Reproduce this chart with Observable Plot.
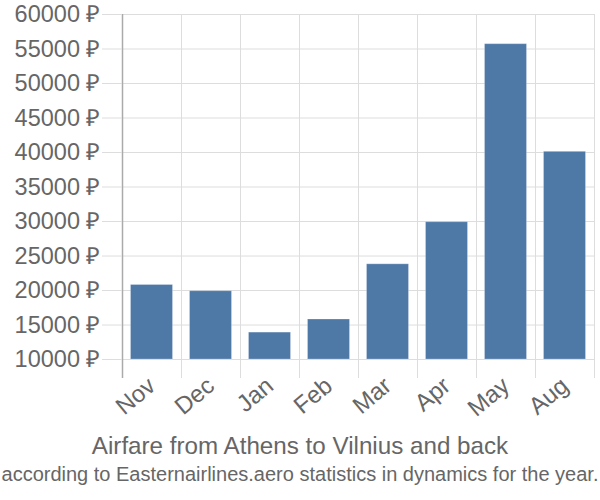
<!DOCTYPE html>
<html><head><meta charset="utf-8">
<script src="https://cdn.jsdelivr.net/npm/d3@7"></script>
<script src="https://cdn.jsdelivr.net/npm/@observablehq/plot@0.6"></script>
<style>
body{margin:0;background:#fff;font-family:"Liberation Sans",Arial,sans-serif;}
#chart svg{display:block}
.t{text-align:center;color:#666;white-space:nowrap;}
#title{font-size:24.2px;line-height:28px;margin-top:12px;}
#subtitle{font-size:20px;line-height:24px;margin-top:2px;}
</style>
</head><body>
<div id="chart"></div>
<div class="t" id="title"></div>
<div class="t" id="subtitle"></div>
<script>
const months = ["Nov","Dec","Jan","Feb","Mar","Apr","May","Aug"];
const prices = [20800, 19900, 13900, 15800, 23800, 29900, 55700, 40100];
const yTicks = [10000, 15000, 20000, 25000, 30000, 35000, 40000, 45000, 50000, 55000, 60000];
const titleText = "Airfare from Athens to Vilnius and back";
const subtitleText = "according to Easternairlines.aero statistics in dynamics for the year.";

const data = months.map((m, i) => ({month: m, price: prices[i]}));
const W = 600, ML = 122, MR = 6;
const bw = (W - ML - MR) / months.length;

const plot = Plot.plot({
  width: W, height: 420,
  marginLeft: ML, marginRight: MR, marginTop: 14, marginBottom: 42,
  x: {type: "band", domain: months, padding: 0},
  y: {domain: [7250, 60000]},
  style: {fontFamily: "'Liberation Sans', Arial, sans-serif", fontSize: "24px", color: "#666", background: "#fff"},
  marks: [
    Plot.gridY(yTicks, {stroke: "#ddd", strokeOpacity: 1}),
    Plot.ruleX(months.slice(1), {x: d => d, dx: -bw / 2, stroke: "#ddd"}),
    Plot.ruleX([months[months.length - 1]], {x: d => d, dx: bw / 2, stroke: "#ddd"}),
    Plot.ruleX([months[0]], {x: d => d, dx: -bw / 2, stroke: "#aaa", strokeWidth: 1.5}),
    Plot.axisY(yTicks, {tickSize: 20, tickPadding: 2, stroke: "#ddd", strokeOpacity: 1, fill: "#666", fontSize: "23.5px", tickFormat: d => `${d} ₽`, label: null}),
    Plot.barY(data, {x: "month", y1: 10000, y2: "price", fill: "#4e79a7", stroke: "#fff", strokeOpacity: 0.25, insetLeft: 8.5, insetRight: 8.5}),
    Plot.axisX({tickSize: 0, tickPadding: 4, tickRotate: -40, fill: "#666", label: null})
  ]
});
document.getElementById("chart").appendChild(plot);
document.getElementById("title").textContent = titleText;
document.getElementById("subtitle").textContent = subtitleText;
</script>
</body></html>
